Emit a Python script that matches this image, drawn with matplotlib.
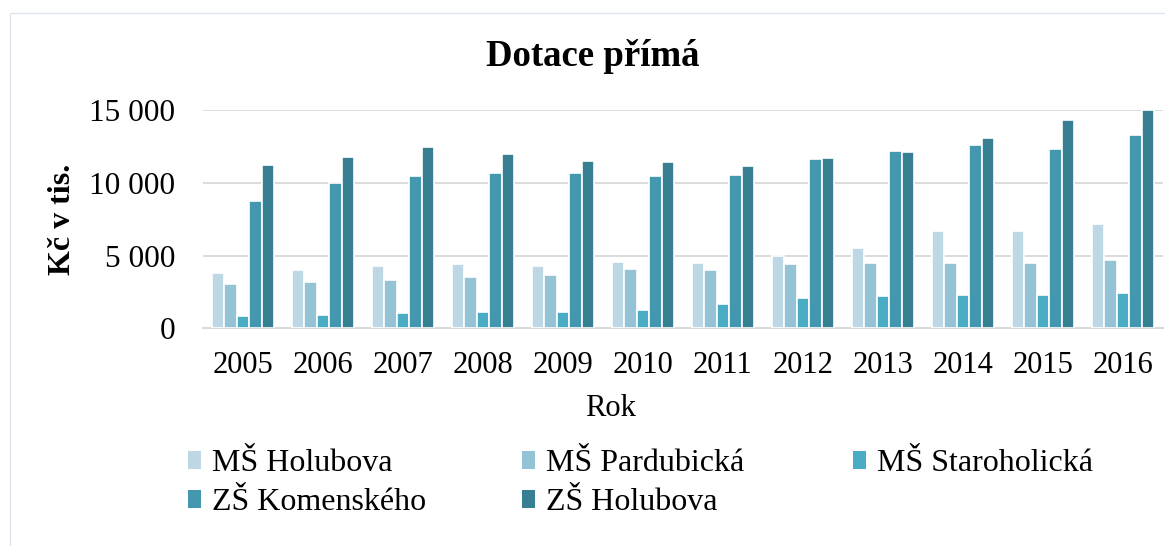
import matplotlib
matplotlib.use("Agg")
import matplotlib.pyplot as plt
import numpy as np
from matplotlib.patches import Rectangle, Patch
from matplotlib.ticker import FuncFormatter

plt.rcParams.update({
    "font.family": ["Liberation Serif", "DejaVu Serif"],
})

years = ["2005", "2006", "2007", "2008", "2009", "2010",
         "2011", "2012", "2013", "2014", "2015", "2016"]
series_names = ["MŠ Holubova", "MŠ Pardubická", "MŠ Staroholická",
                "ZŠ Komenského", "ZŠ Holubova"]
ms_holubova    = [3830, 3990, 4290, 4400, 4290, 4570, 4470, 4950, 5550, 6680, 6680, 7180]
ms_pardubicka  = [3050, 3170, 3300, 3530, 3670, 4080, 4020, 4400, 4520, 4520, 4470, 4730]
ms_staroholic  = [830, 920, 1060, 1100, 1120, 1290, 1680, 2110, 2250, 2270, 2290, 2430]
zs_komenskeho  = [8760, 10000, 10480, 10710, 10670, 10460, 10530, 11630, 12180, 12620, 12340, 13300]
zs_holubova    = [11220, 11810, 12480, 12000, 11490, 11420, 11150, 11700, 12110, 13080, 14360, 15000]
values = [ms_holubova, ms_pardubicka, ms_staroholic, zs_komenskeho, zs_holubova]
colors = ["#BDD7E4", "#93C3D5", "#4BACC6", "#4398B0", "#377F93"]

W, H = 1165, 546
fig = plt.figure(figsize=(W / 100, H / 100), dpi=100)

# light chart-area border (only left and top edges fall inside the image)
fig.add_artist(Rectangle((10 / W, -0.1), 1.0, 1.1 - 13 / H, transform=fig.transFigure,
                         fill=False, edgecolor="#DCE5EF", lw=1.0))

ax = fig.add_axes([203 / W, (H - 328.3) / H, 960 / W, 218 / H])

x = np.arange(len(years))
step = 0.155
for i, (name, vals, col) in enumerate(zip(series_names, values, colors)):
    ax.bar(x + (i - 2) * step, vals, width=step, color=col,
           edgecolor="white", linewidth=1.2, label=name, zorder=3)

ax.set_xlim(-0.5, len(years) - 0.5)
ax.set_ylim(0, 15000)
ax.set_yticks([0, 5000, 10000, 15000])
ax.yaxis.set_major_formatter(FuncFormatter(lambda v, p: f"{int(v):,}".replace(",", " ")))
ax.set_xticks(x)
ax.set_xticklabels(years)
ax.tick_params(axis="y", length=0, pad=20, labelsize=22.5)
ax.tick_params(axis="x", length=0, pad=16, labelsize=22)
ax.grid(axis="y", color="#D9D9D9", lw=1.3, zorder=0)
for s in ["left", "right", "top"]:
    ax.spines[s].set_visible(False)
ax.spines["bottom"].set_color("#D9D9D9")
ax.spines["bottom"].set_linewidth(1.5)

ax.set_xlabel("Rok", fontsize=22, va="center")
ax.xaxis.set_label_coords((611 - 203) / 960, (328.3 - 408) / 218)
ax.set_ylabel("Kč v tis.", fontsize=23, fontweight="bold", va="center")
ax.yaxis.set_label_coords((62 - 203) / 960, 0.5)

fig.text(593 / W, 1 - 57 / H, "Dotace přímá", fontsize=26.5, fontweight="bold",
         ha="center", va="center")

# legend laid out row-wise in three fixed columns
handles = [Patch(facecolor=c, edgecolor="none") for c in colors]
columns = [[0, 3], [1, 4], [2]]
col_x = [188, 522, 853]
for cx, idx in zip(col_x, columns):
    fig.legend([handles[k] for k in idx], [series_names[k] for k in idx],
               loc="upper left", bbox_to_anchor=(cx / W, 1 - 449 / H),
               frameon=False, fontsize=23, borderpad=0, borderaxespad=0,
               handlelength=0.4, handleheight=0.5, handletextpad=0.35,
               labelspacing=0.32)

fig.savefig("out.png", dpi=100)
